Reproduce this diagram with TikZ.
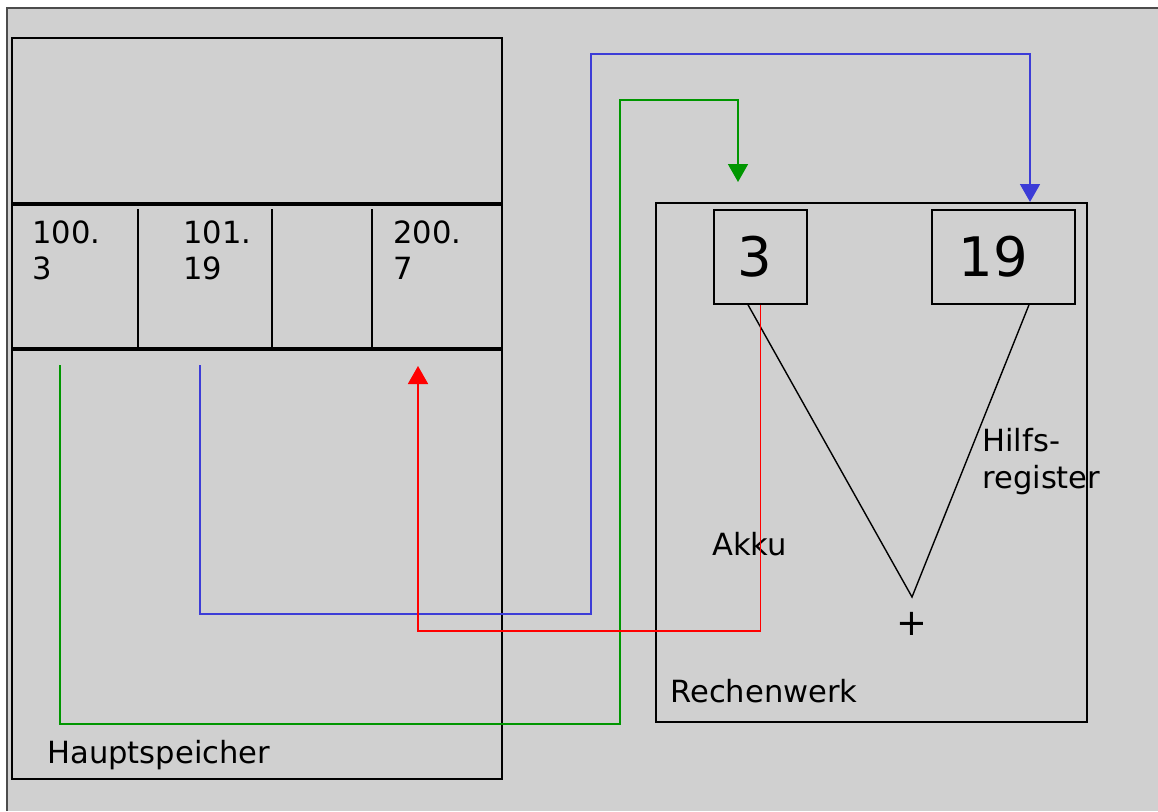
\documentclass[tikz,border=0pt]{standalone}
\usepackage{fontspec}
\setmainfont{DejaVu Sans}
\usetikzlibrary{arrows.meta, positioning}

\definecolor{panel}{RGB}{208,208,208}
\definecolor{busgreen}{RGB}{0,150,0}
\definecolor{busblue}{RGB}{60,60,215}

\begin{document}
\begin{tikzpicture}[x=0.02cm, y=-0.02cm,   % one unit = one pixel
    box/.style={
        draw=black,
        line width=0.9pt,
        inner sep=0pt
    },
    regbox/.style={box, font=\fontsize{31}{31}\selectfont},
    lbl/.style={inner sep=0pt, font=\fontsize{17.4}{21}\selectfont},
    cell/.style={lbl, align=left, anchor=north west},
    bus/.style={line width=1pt, -{Triangle[width=0.4cm, length=0.36cm]}}
]
    \useasboundingbox (0,0) rectangle (1158,811);
    \fill [panel] (7,8) rectangle (1158,811);
    \draw [line width=1.4pt, black!70] (7,811) -- (7,8) -- (1158,8);

    % 1. The Hauptspeicher
    \node [box, minimum width=9.8cm, minimum height=14.82cm] (mem) at (257,408.5) {};
    \draw [line width=2pt] (12,204) -- (502,204) (12,349) -- (502,349);
    \foreach \x in {138,272,372}
        \draw [line width=0.9pt] (\x,209) -- (\x,349);
    \node [cell] (cell100) at (32,220) {100.\\3};
    \node [cell] (cell101) at (183,220) {101.\\19};
    \node [cell] (cell200) at (393,220) {200.\\7};
    \node [lbl, anchor=base west] (memname) at (47,763) {Hauptspeicher};

    % 2. The Rechenwerk
    \node [box, minimum width=8.62cm, minimum height=10.38cm] (alu) at (871.5,462.5) {};
    \node [regbox, minimum width=1.86cm, minimum height=1.88cm] (akku) at (760.5,257) {3\kern0.24cm};
    \node [regbox, minimum width=2.86cm, minimum height=1.88cm] (hilfs) at (1003.5,257) {19\kern0.42cm};
    \coordinate (sum) at (912,597);
    \draw [line width=0.8pt] ([xshift=-0.25cm]akku.south) -- (sum) -- ([xshift=0.51cm]hilfs.south);
    \node [lbl, font=\fontsize{21}{21}\selectfont] (plus) at (912,624) {+};
    \node [lbl, anchor=base west] (akkuname) at (712,555) {Akku};
    \node [cell] (hilfsname) at (982,428) {Hilfs-\\register};
    \node [lbl, anchor=base west] (aluname) at (670,702) {Rechenwerk};

    % The Connections
    \coordinate (src100) at (60,365);
    \coordinate (src101) at (200,365);
    \coordinate (dst200) at (418,366);
    \coordinate (toakku) at (738,182);
    \coordinate (tohilfs) at (1030,202);
    \draw [bus, busgreen] (src100) |- (620,724) -- (620,100) -| (toakku);
    \draw [bus, busblue] (src101) |- (591,614) -- (591,54) -| (tohilfs);
    \draw [bus, red] (akku.south) -- ++(0,326) -| (dst200);

\end{tikzpicture}
\end{document}
